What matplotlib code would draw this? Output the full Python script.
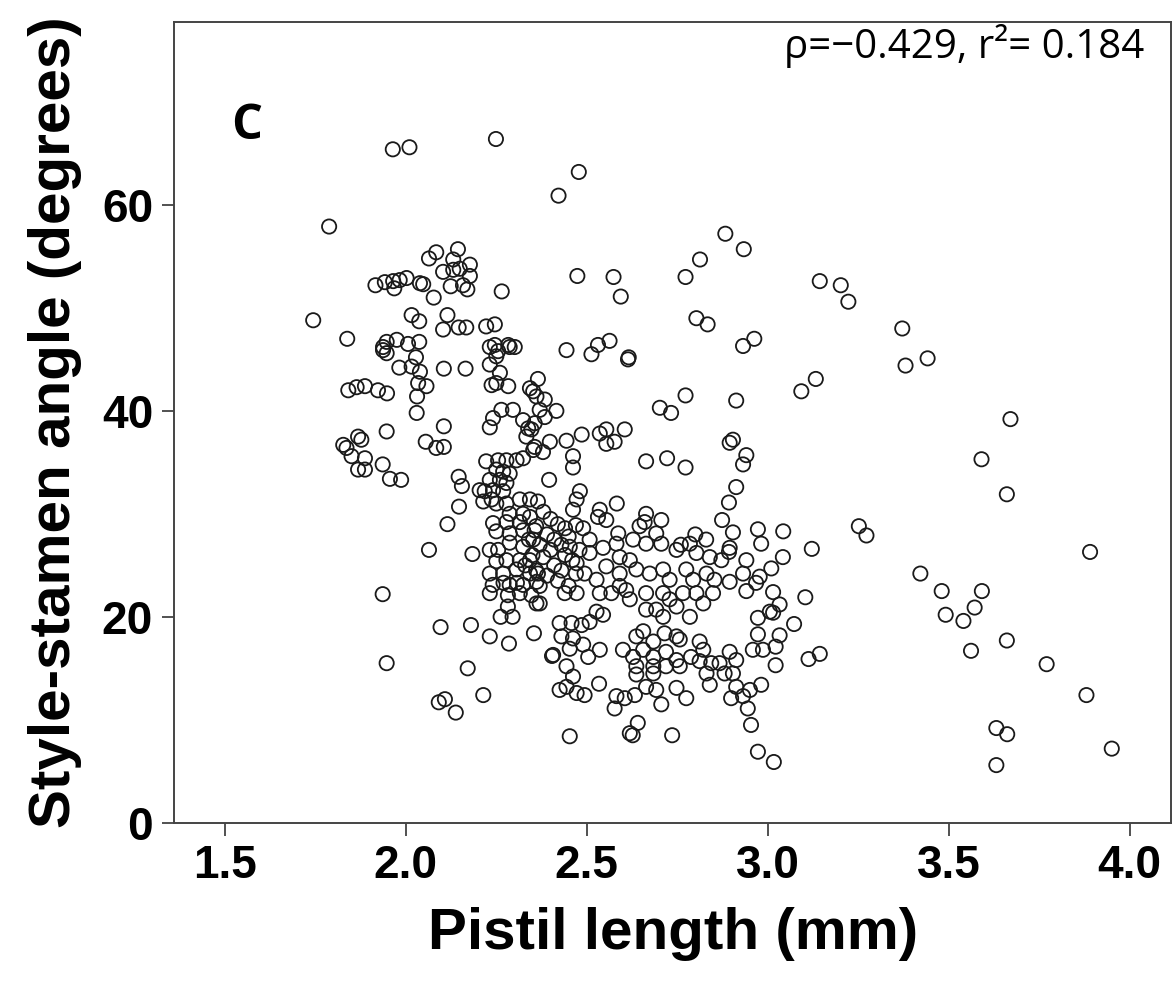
import matplotlib
matplotlib.use("Agg")
from matplotlib import pyplot as plt

# (pistil length mm, style-stamen angle deg), grouped by area
upper_pts = [
    (1.964, 65.4), (2.010, 65.6), (2.249, 66.4), (1.788, 57.9), (2.422, 60.9), (2.478, 63.2),
    (2.474, 53.1), (2.574, 53.0), (2.594, 51.1), (2.773, 53.0), (2.813, 54.7), (2.883, 57.2),
    (2.934, 55.7), (2.803, 49.0), (2.834, 48.4), (2.963, 47.0), (2.932, 46.3), (2.444, 45.9),
    (2.531, 46.4), (2.563, 46.8), (2.513, 45.5), (2.614, 45.0), (2.616, 45.2),
    (2.064, 54.8), (2.084, 55.4), (2.144, 55.7), (2.131, 54.7), (2.177, 54.2), (2.103, 53.5),
    (2.131, 53.7), (2.149, 53.8), (2.177, 53.1), (2.124, 52.1), (2.158, 52.2), (2.170, 51.8),
    (2.077, 51.0), (2.265, 51.6), (1.916, 52.2), (1.942, 52.5), (1.965, 52.6), (1.983, 52.7),
    (2.002, 52.9), (1.968, 51.9), (2.039, 52.4), (2.048, 52.3), (1.744, 48.8), (1.838, 47.0),
    (2.016, 49.3), (2.037, 48.7), (2.115, 49.3), (2.103, 47.9), (2.146, 48.1), (2.167, 48.1),
    (2.222, 48.2), (2.246, 48.4), (1.947, 46.7), (1.975, 46.9), (2.006, 46.5), (2.037, 46.7),
    (2.246, 46.4), (2.283, 46.4), (2.301, 46.2), (1.937, 46.2),
]

right_pts = [
    (3.144, 52.6), (3.202, 52.2), (3.223, 50.6), (3.372, 48.0), (3.093, 41.9), (3.133, 43.1),
    (3.381, 44.4), (3.442, 45.1), (3.671, 39.2), (3.591, 35.3), (3.661, 31.9), (3.043, 28.3),
    (3.122, 26.6), (3.042, 25.8), (3.010, 24.7), (3.252, 28.8), (3.273, 27.9), (3.891, 26.3),
    (3.422, 24.2), (3.481, 22.5), (3.592, 22.5), (3.492, 20.2), (3.572, 20.9), (3.541, 19.6),
    (3.661, 17.7), (3.562, 16.7), (3.771, 15.4), (3.881, 12.4), (3.632, 9.2), (3.662, 8.6),
    (3.951, 7.2), (3.632, 5.6), (3.104, 21.9), (3.073, 19.3), (3.033, 21.2), (3.015, 22.4),
    (3.015, 20.4), (3.033, 18.2), (3.022, 17.1), (3.022, 15.3), (3.113, 15.9), (3.144, 16.4),
    (3.017, 5.9),
]

left_pts = [
    (1.937, 45.9), (1.947, 45.6), (2.028, 45.2), (1.982, 44.2), (2.016, 44.3), (2.039, 43.8),
    (2.105, 44.1), (2.165, 44.1), (2.034, 42.7), (2.057, 42.4), (2.031, 41.4), (2.030, 39.8),
    (1.841, 42.0), (1.864, 42.3), (1.887, 42.4), (1.923, 42.0), (1.948, 41.7), (1.947, 38.0),
    (2.105, 38.5), (2.055, 37.0), (2.084, 36.4), (2.105, 36.5), (1.827, 36.7), (1.836, 36.4),
    (1.868, 37.5), (1.877, 37.2), (1.850, 35.6), (1.887, 35.4), (1.868, 34.3), (1.887, 34.3),
    (1.936, 34.8), (1.956, 33.4), (1.987, 33.3), (2.146, 33.6), (2.155, 32.7), (2.147, 30.7),
    (2.115, 29.0), (2.064, 26.5), (2.184, 26.1),
    (1.936, 22.2), (1.947, 15.5), (2.096, 19.0), (2.180, 19.2), (2.232, 18.1), (2.285, 17.4),
    (2.171, 15.0), (2.214, 12.4), (2.091, 11.7), (2.108, 12.0), (2.138, 10.7), (2.354, 18.4),
]

cluster_a = [
    (2.232, 46.2), (2.255, 45.8), (2.287, 46.2), (2.250, 45.3), (2.232, 44.5), (2.260, 43.7),
    (2.237, 42.5), (2.250, 42.7), (2.283, 42.4), (2.343, 42.2), (2.352, 41.9), (2.361, 41.4),
    (2.264, 40.1), (2.296, 40.1), (2.241, 39.3), (2.324, 39.1), (2.338, 38.3), (2.333, 37.5),
    (2.232, 38.4), (2.356, 38.8), (2.352, 36.2), (2.324, 35.4), (2.222, 35.1), (2.255, 35.2),
    (2.278, 35.2), (2.306, 35.2), (2.250, 34.3), (2.269, 34.1), (2.287, 33.9), (2.232, 33.3),
    (2.260, 33.3), (2.278, 33.0), (2.204, 32.3), (2.218, 32.2), (2.241, 32.3), (2.269, 32.2),
    (2.214, 31.2), (2.237, 31.4), (2.250, 31.0), (2.278, 31.0), (2.315, 31.4), (2.343, 31.4),
    (2.365, 31.2), (2.287, 30.0), (2.324, 30.0), (2.241, 29.1), (2.278, 29.2), (2.315, 29.2),
    (2.343, 29.7), (2.250, 28.3), (2.287, 28.1), (2.324, 28.4), (2.356, 28.4), (2.232, 26.5),
    (2.255, 26.5), (2.287, 27.2), (2.324, 26.8), (2.352, 27.5), (2.250, 25.4), (2.278, 25.5),
    (2.315, 25.5), (2.343, 25.5), (2.232, 24.2), (2.269, 24.2), (2.306, 24.6), (2.343, 24.2),
    (2.365, 24.2), (2.287, 23.1), (2.324, 23.1),
    (2.232, 22.3), (2.282, 22.1), (2.315, 22.3), (2.347, 22.1), (2.361, 21.3), (2.282, 21.0),
    (2.262, 20.0), (2.295, 20.0), (2.240, 23.1), (2.270, 23.3), (2.307, 23.3),
]

cluster_b = [
    (2.365, 43.1), (2.384, 41.1), (2.370, 40.1), (2.416, 40.0), (2.384, 39.4), (2.347, 38.2),
    (2.356, 36.5), (2.379, 36.0), (2.398, 37.0), (2.444, 37.1), (2.486, 37.7), (2.536, 37.8),
    (2.554, 38.2), (2.554, 36.8), (2.577, 37.0), (2.605, 38.2), (2.462, 35.6), (2.462, 34.5),
    (2.396, 33.3), (2.664, 35.1), (2.722, 35.4), (2.773, 34.5), (2.702, 40.3), (2.733, 39.8),
    (2.773, 41.5), (2.913, 41.0), (2.895, 36.9), (2.904, 37.2), (2.941, 35.7), (2.932, 34.8),
    (2.913, 32.6), (2.893, 31.1), (2.874, 29.4), (2.904, 28.2), (2.973, 28.5), (2.982, 27.1),
    (2.895, 26.7), (2.893, 26.3), (2.941, 25.5), (2.932, 24.2), (2.978, 23.9),
    (2.481, 32.2), (2.472, 31.4), (2.462, 30.4), (2.583, 31.0), (2.536, 30.4), (2.531, 29.7),
    (2.554, 29.4), (2.490, 28.6), (2.587, 28.1), (2.664, 30.0), (2.660, 29.2), (2.706, 29.4),
    (2.646, 28.8), (2.692, 28.1), (2.628, 27.5), (2.664, 27.1), (2.706, 27.1), (2.785, 27.1),
    (2.748, 26.5), (2.803, 26.2), (2.840, 25.8), (2.872, 25.5), (2.582, 27.1), (2.545, 26.7),
    (2.591, 25.8), (2.619, 25.5), (2.554, 24.9), (2.591, 24.2), (2.637, 24.6), (2.674, 24.2),
    (2.711, 24.6), (2.729, 23.6), (2.775, 24.6), (2.794, 23.6), (2.831, 24.2), (2.853, 23.6),
    (2.895, 23.4), (2.494, 24.2), (2.527, 23.6), (2.472, 25.2), (2.508, 26.2), (2.453, 26.8),
    (2.508, 27.5), (2.80, 28.0), (2.76, 27.0), (2.83, 27.5),
    (2.38, 30.2), (2.40, 29.5), (2.42, 29.0), (2.44, 28.6), (2.36, 28.8), (2.39, 28.0),
    (2.41, 27.5), (2.43, 27.0), (2.45, 27.8), (2.47, 28.9), (2.37, 27.0), (2.40, 26.5),
    (2.44, 26.0), (2.46, 25.5), (2.38, 25.8), (2.41, 25.0), (2.43, 24.5), (2.36, 24.5),
    (2.39, 24.0), (2.42, 23.5), (2.45, 23.0), (2.37, 23.0), (2.47, 24.2), (2.48, 26.5),
    (2.35, 26.0), (2.34, 27.5), (2.33, 25.0),
]

lower_pts = [
    (2.361, 23.4), (2.370, 21.3), (2.439, 22.3), (2.472, 22.3), (2.527, 20.5), (2.545, 20.2),
    (2.536, 22.3), (2.568, 22.3), (2.609, 22.6), (2.425, 19.4), (2.458, 19.4), (2.486, 19.2),
    (2.508, 19.5), (2.430, 18.1), (2.407, 16.3), (2.404, 16.2), (2.462, 17.9), (2.490, 17.3),
    (2.504, 16.1), (2.453, 16.9), (2.536, 16.8), (2.444, 15.2), (2.462, 14.2), (2.425, 12.9),
    (2.444, 13.2), (2.472, 12.6), (2.494, 12.4), (2.534, 13.5), (2.577, 11.1), (2.582, 12.3),
    (2.605, 12.1), (2.633, 12.4), (2.664, 13.2), (2.692, 12.9), (2.706, 11.5), (2.748, 13.1),
    (2.775, 12.1), (2.453, 8.4), (2.619, 8.7), (2.627, 8.5), (2.641, 9.7), (2.736, 8.5),
    (2.600, 16.8), (2.637, 18.1), (2.656, 18.6), (2.684, 17.6), (2.715, 18.4), (2.748, 18.1),
    (2.757, 17.8), (2.628, 16.1), (2.656, 16.8), (2.684, 16.1), (2.719, 16.6), (2.748, 15.8),
    (2.637, 15.2), (2.684, 15.2), (2.719, 15.2), (2.757, 15.2), (2.637, 14.4), (2.684, 14.5),
    (2.788, 16.1), (2.812, 17.6), (2.822, 16.8), (2.812, 15.7), (2.844, 15.5), (2.867, 15.5),
    (2.831, 14.5), (2.840, 13.4), (2.895, 16.6), (2.913, 15.8), (2.881, 14.5), (2.904, 14.5),
    (2.913, 13.2), (2.899, 12.1), (2.932, 12.3), (2.951, 12.9), (2.982, 13.4), (2.945, 11.1),
    (2.954, 9.5), (2.973, 6.9), (2.973, 19.9), (2.973, 18.3), (2.959, 16.8), (2.987, 16.8),
    (3.006, 20.5), (2.941, 22.5), (2.968, 23.3), (2.664, 22.3), (2.692, 20.7), (2.711, 20.0),
    (2.729, 21.7), (2.748, 21.0), (2.785, 20.0), (2.803, 22.3), (2.822, 21.3), (2.849, 22.3),
    (2.766, 22.3), (2.711, 22.3), (2.664, 20.7), (2.619, 21.7), (2.591, 23.0),
]

all_pts = upper_pts + right_pts + left_pts + cluster_a + cluster_b + lower_pts
pistil_length = [p[0] for p in all_pts]
stamen_angle = [p[1] for p in all_pts]

x_ticks = [1.5, 2.0, 2.5, 3.0, 3.5, 4.0]
y_ticks = [0, 20, 40, 60]

bold_font = ['Liberation Sans Narrow', 'Liberation Sans', 'DejaVu Sans']

fig = plt.figure(figsize=(11.75, 9.83), dpi=100)
ax = fig.add_axes([0.148, 0.163, 0.849, 0.815])

ax.scatter(pistil_length, stamen_angle, s=105, facecolors='none',
           edgecolors='#1a1a1a', linewidths=1.3)

ax.set_xlim(1.359, 4.116)
ax.set_ylim(0, 77.8)
ax.set_xticks(x_ticks)
ax.set_xticklabels(['{:.1f}'.format(v) for v in x_ticks])
ax.set_yticks(y_ticks)

for sp in ax.spines.values():
    sp.set_color('#444444')
    sp.set_linewidth(1.4)

ax.tick_params(direction='out', length=9, width=1.2, color='#333333', pad=6)
for lab in ax.get_xticklabels() + ax.get_yticklabels():
    lab.set_family(bold_font)
    lab.set_weight('bold')
    lab.set_fontsize(33)

ax.set_xlabel("Pistil length (mm)", family=bold_font, fontweight='bold', fontsize=42, labelpad=14)
ax.set_ylabel("Style-stamen angle (degrees)", family=bold_font, fontweight='bold', fontsize=42, labelpad=14)

ax.text(0.073, 0.869, "C", transform=ax.transAxes, family=['Open Sans', 'DejaVu Sans'],
        fontweight='bold', fontsize=35, ha='center', va='center')
ax.text(0.973, 0.969, "ρ=\u22120.429, r\u00b2= 0.184", transform=ax.transAxes,
        family=['Open Sans', 'DejaVu Sans'], fontsize=29, ha='right', va='center')

plt.savefig("out.png", dpi=100)
